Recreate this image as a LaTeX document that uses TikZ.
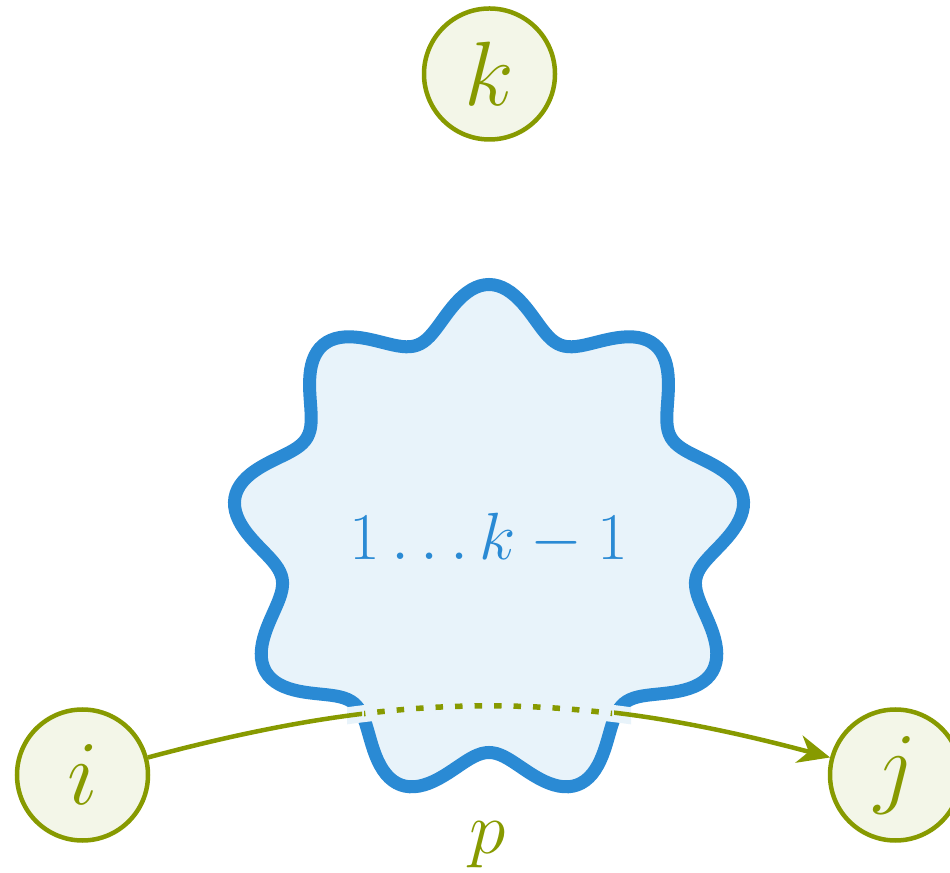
\RequirePackage{fix-cm}
\documentclass[tikz,border=0pt]{standalone}
\usetikzlibrary{arrows.meta}
\definecolor{oliveleaf}{HTML}{879A00}
\definecolor{oliveleafpale}{HTML}{F3F6E8}
\definecolor{lakeblue}{HTML}{2A8AD4}
\definecolor{lakebluepale}{HTML}{E8F3FA}
\tikzset{
  vertex/.style={circle,draw=oliveleaf,fill=oliveleafpale,line width=0.045cm,
    minimum size=1.31cm,inner sep=0pt,text=oliveleaf,font=\fontsize{26}{30}\selectfont},
  route/.style={draw=oliveleaf,line width=0.045cm},
}
% one slice of the route i -> j, cut to the x range #1..#2
\newcommand{\routepart}[3]{%
  \begin{scope}
    \clip (#1,0) rectangle (#2,8.72);
    \draw[route,#3] (i) to[bend left=15] (j);
  \end{scope}
}

\begin{document}
\begin{tikzpicture}
  \useasboundingbox (0,0) rectangle (9.5,8.72);
  \node[vertex] (k) at (4.895,7.98) {$k$};
  \node[vertex] (i) at (0.825,0.97) {$i$};
  \node[vertex] (j) at (8.955,0.97) {$j$};
  % wavy set of the inner vertices
  \filldraw[draw=lakeblue,fill=lakebluepale,line width=0.13cm,shift={(4.89,3.295)}]
    plot[domain=0:359,samples=360] (\x:{2.34+0.24*cos(9*(\x-90))}) -- cycle;
  \node[text=lakeblue,font=\fontsize{19}{23}\selectfont] (set) at (4.89,3.33) {$1\ldots k-1$};
  % gap in the outline where the route passes
  \begin{scope}
    \clip (3.47,1.32) rectangle (6.31,1.82);
    \draw[lakebluepale,line width=0.17cm] (i) to[bend left=15] (j);
  \end{scope}
  \routepart{0}{3.62}{}
  \routepart{6.14}{9.5}{-{Stealth[length=0.32cm,width=0.28cm,inset=0.1cm]}}
  \routepart{3.64}{6.12}{line width=0.055cm,dash pattern=on 0.075cm off 0.12cm}
  \node[text=oliveleaf,font=\fontsize{21}{25}\selectfont] (p) at (4.875,0.27) {$p$};
\end{tikzpicture}
\end{document}
